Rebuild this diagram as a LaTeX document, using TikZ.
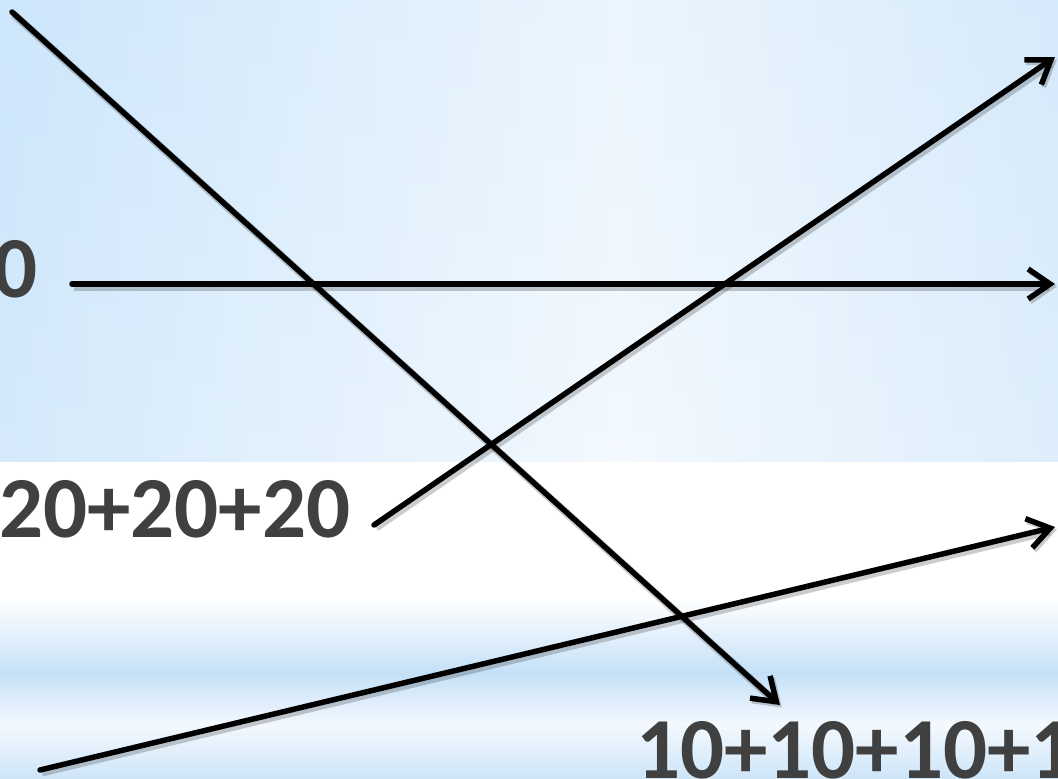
\documentclass[tikz,border=0pt]{standalone}
\usepackage{fontspec}
\setmainfont{Carlito}
\usetikzlibrary{arrows.meta}
\definecolor{txt}{HTML}{404040}
\definecolor{bgL}{HTML}{CDE6FB}
\definecolor{bgM}{HTML}{F3F9FE}
\definecolor{bgR}{HTML}{D8EBFB}
\definecolor{bandB}{HTML}{C4E0F7}
\definecolor{bandW}{HTML}{F4F9FE}
\definecolor{bandE}{HTML}{CDE5F8}
\begin{document}
\begin{tikzpicture}[x=1pt,y=-1pt,
  lbl/.style={font=\fontsize{87}{87}\selectfont\bfseries, text=txt, inner sep=0pt, anchor=base west},
  conn/.style={line width=5.5pt, line cap=round, line join=round,
    -{Straight Barb[length=22pt,width=30pt,line width=5.5pt]},
    preaction={draw=black, opacity=0.2, line width=8pt, transform canvas={shift={(2pt,-2.5pt)}}}}]
\useasboundingbox (0,0) rectangle (1058,779);
% background
\shade[left color=bgL, right color=bgM] (0,0) rectangle (620,462);
\shade[left color=bgM, right color=bgR] (619,0) rectangle (1058,462);
\shade[top color=bgL, bottom color=bgM, opacity=0.2] (0,0) rectangle (1058,462);
\fill[white] (0,462) rectangle (1058,600);
\shade[top color=white, bottom color=bandB] (0,599) rectangle (1058,674);
\shade[top color=bandB, bottom color=bandW] (0,673) rectangle (1058,725);
\shade[top color=bandW, bottom color=bandE] (0,724) rectangle (1058,779);
% labels
\node[lbl, anchor=base east] (zero) at (38,297) {0};
\node[lbl] (twenty) at (-1,537) {20+20+20};
\node[lbl] (ten) at (636,778) {10+10+10+1};
% connector ends
\coordinate (a1) at (12,12);
\coordinate (a2) at (780,705);
\coordinate (b1) at (72,284);
\coordinate (b2) at (1055,284);
\coordinate (c1) at (374,525);
\coordinate (c2) at (1055,57);
\coordinate (d1) at (40,770);
\coordinate (d2) at (1055,527);
% connectors
\draw[conn] (a1) -- (a2);
\draw[conn] (b1) -- (b2);
\draw[conn] (c1) -- (c2);
\draw[conn] (d1) -- (d2);
\end{tikzpicture}
\end{document}
